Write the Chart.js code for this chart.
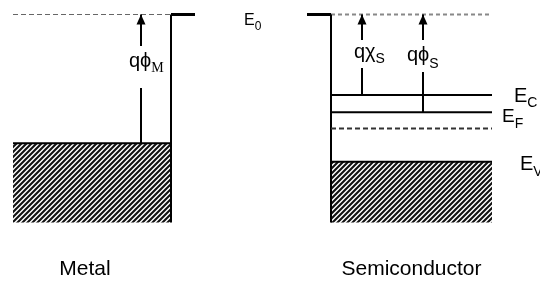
<!DOCTYPE html>
<html><head><meta charset="utf-8">
<script src="https://cdn.jsdelivr.net/npm/chart.js@4/dist/chart.umd.min.js"></script>
<style>html,body{margin:0;padding:0;background:#fff;}canvas{display:block;}</style>
</head><body>
<canvas id="c" width="540" height="284"></canvas>
<script>
// ---- Energy levels (eV, measured downward from the vacuum level E0 = 0) ----
const levelNames   = ['E0', 'EF metal', 'EC', 'EF semi', 'Ei', 'EV', 'band bottom'];
const levelDepths  = [0, 4.95, 3.10, 3.76, 4.38, 5.66, 8.0];
// ---- Lateral extents of the two materials (distance units) ----
const metalSpan    = [13, 171, 195];   // left edge, surface, vacuum stub end
const semiSpan     = [307, 331, 492];  // vacuum stub start, surface, right edge
// ---- Energy arrows: x position, start level index, label gap (eV below E0) ----
const arrowNames   = ['qϕM', 'qχS', 'qϕS'];
const arrowX       = [141, 362, 423];
const arrowFrom    = [1, 2, 3];
const arrowGapTop  = [1.21, 0.98, 0.98];
const arrowGapBot  = [2.83, 2.06, 2.21];
// ---- Text ----
const arrowMain    = ['qϕ', 'qχ', 'qϕ'];
const arrowSub     = ['M', 'S', 'S'];
const levelLabelMain = ['E', 'E', 'E', 'E'];
const levelLabelSub  = ['0', 'C', 'F', 'V'];
const sectionTitles  = ['Metal', 'Semiconductor'];

const E = levelDepths.map(d => -d);
const [E0, EFm, EC, EFs, Ei, EV, Eb] = E;

function hatch() {
  const p = 5;
  const c = document.createElement('canvas');
  c.width = p; c.height = p;
  const g = c.getContext('2d');
  g.fillStyle = '#fff'; g.fillRect(0, 0, p, p);
  g.strokeStyle = '#111'; g.lineWidth = 2.1;
  g.beginPath();
  g.moveTo(-1, p + 1); g.lineTo(p + 1, -1);
  g.moveTo(-2, 2); g.lineTo(2, -2);
  g.moveTo(p - 2, p + 2); g.lineTo(p + 2, p - 2);
  g.stroke();
  return document.getElementById('c').getContext('2d').createPattern(c, 'repeat');
}
const pattern = hatch();

const pt = (x, y) => ({x, y});
const line = (data, extra) => Object.assign({
  data, borderColor: '#000', borderWidth: 2, pointRadius: 0, fill: false
}, extra || {});

const datasets = [];
// arrows (split around the labels)
arrowX.forEach((x, i) => {
  datasets.push(line([
    pt(x, E[arrowFrom[i]]), pt(x, -arrowGapBot[i]), pt(x, null),
    pt(x, -arrowGapTop[i]), pt(x, E0)
  ]));
});
// semiconductor levels
datasets.push(line([pt(semiSpan[1], EC), pt(semiSpan[2], EC)]));
datasets.push(line([pt(semiSpan[1], EFs), pt(semiSpan[2], EFs)]));
datasets.push(line([pt(semiSpan[1], Ei), pt(semiSpan[2], Ei)], {borderDash: [5, 3], borderColor: '#333'}));
// walls and vacuum stubs
datasets.push(line([pt(metalSpan[1], Eb), pt(metalSpan[1], E0)]));
datasets.push(line([pt(metalSpan[1], E0), pt(metalSpan[2], E0)], {borderWidth: 3}));
datasets.push(line([pt(semiSpan[1], E0), pt(semiSpan[1], Eb)]));
datasets.push(line([pt(semiSpan[0], E0), pt(semiSpan[1], E0)], {borderWidth: 3}));
// vacuum level dashes
datasets.push(line([pt(metalSpan[0], E0), pt(metalSpan[1], E0)], {borderDash: [5, 3], borderWidth: 1.2, borderColor: '#666'}));
datasets.push(line([pt(semiSpan[1], E0), pt(semiSpan[2], E0)], {borderDash: [4, 3], borderWidth: 2, borderColor: '#888'}));
// filled bands (drawn first)
datasets.push(line([pt(metalSpan[0], EFm), pt(metalSpan[1], EFm)], {fill: {value: Eb}, backgroundColor: pattern}));
datasets.push(line([pt(semiSpan[1], EV), pt(semiSpan[2], EV)], {fill: {value: Eb}, backgroundColor: pattern}));

const annot = {
  id: 'annot',
  afterDatasetsDraw(chart) {
    const ctx = chart.ctx, xs = chart.scales.x, ys = chart.scales.y;
    const X = v => xs.getPixelForValue(v), Y = v => ys.getPixelForValue(v);
    ctx.save();
    ctx.fillStyle = '#000';
    // arrowheads
    arrowX.forEach(x => {
      const px = X(x), py = Y(E0);
      ctx.beginPath();
      ctx.moveTo(px, py);
      ctx.lineTo(px - 4.5, py + 10);
      ctx.lineTo(px + 4.5, py + 10);
      ctx.closePath();
      ctx.fill();
    });
    ctx.textBaseline = 'alphabetic';
    ctx.textAlign = 'left';
    const sans = s => s + 'px "Liberation Sans", Arial, sans-serif';
    const serif = s => s + 'px "Liberation Serif", "Times New Roman", serif';
    // arrow labels
    const arrowLab = [
      {x: X(arrowX[0]) - 12, y: 67, sub: 72, subFont: serif(14)},
      {x: X(arrowX[1]) - 8, y: 58, sub: 63, subFont: sans(14)},
      {x: X(arrowX[2]) - 16, y: 61, sub: 68, subFont: sans(14)}
    ];
    arrowLab.forEach((a, i) => {
      ctx.font = sans(20);
      ctx.fillText(arrowMain[i], a.x, a.y);
      const w = ctx.measureText(arrowMain[i]).width;
      ctx.font = a.subFont;
      ctx.fillText(arrowSub[i], a.x + w, a.sub);
    });
    // level labels
    const lev = [
      {x: 244, y: Y(E0) + 10, s: 16, ss: 12, d: 5},
      {x: 514, y: Y(EC) + 7, s: 20, ss: 14, d: 5},
      {x: 502, y: Y(EFs) + 10, s: 19, ss: 14, d: 6},
      {x: 520, y: Y(EV) + 8, s: 20, ss: 14, d: 6}
    ];
    lev.forEach((l, i) => {
      ctx.font = sans(l.s);
      ctx.fillText(levelLabelMain[i], l.x, l.y);
      const w = ctx.measureText(levelLabelMain[i]).width;
      ctx.font = sans(l.ss);
      ctx.fillText(levelLabelSub[i], l.x + w, l.y + l.d);
    });
    // section titles
    ctx.font = sans(21);
    ctx.textAlign = 'center';
    ctx.fillText(sectionTitles[0], X((metalSpan[0] + metalSpan[1]) / 2 - 7), 275);
    ctx.fillText(sectionTitles[1], X((semiSpan[1] + semiSpan[2]) / 2), 275);
    ctx.restore();
  }
};

const pxPerEv = 26, topPad = 14.5;
new Chart(document.getElementById('c'), {
  type: 'line',
  data: {datasets},
  options: {
    responsive: false,
    animation: false,
    events: [],
    layout: {padding: 0},
    plugins: {legend: {display: false}, tooltip: {enabled: false}},
    elements: {line: {tension: 0}, point: {radius: 0}},
    scales: {
      x: {type: 'linear', display: false, min: 0, max: 540},
      y: {type: 'linear', display: false, max: topPad / pxPerEv, min: -(284 - topPad) / pxPerEv}
    }
  },
  plugins: [annot]
});
</script>
</body></html>
